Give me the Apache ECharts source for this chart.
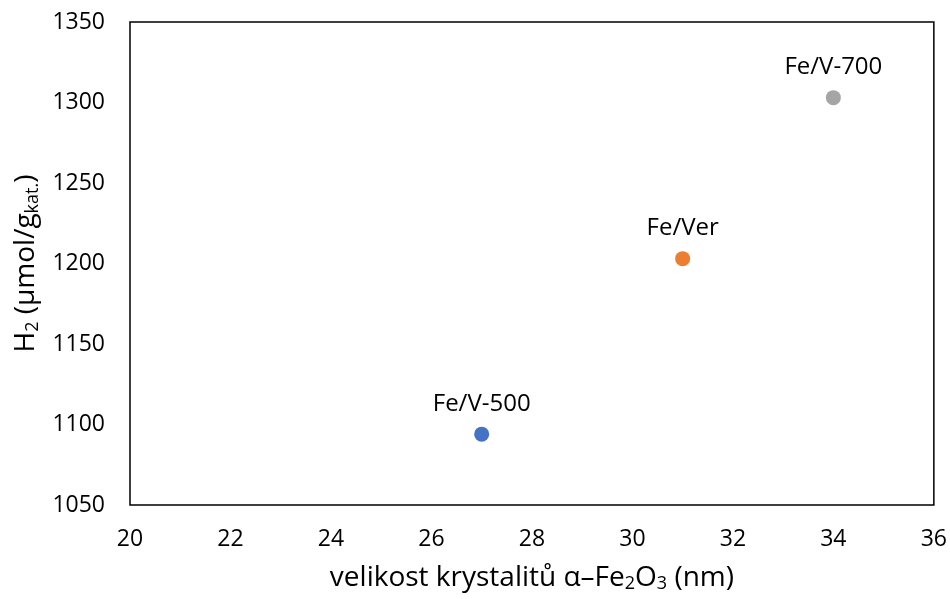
<!DOCTYPE html>
<html>
<head>
<meta charset="utf-8">
<script src="https://cdn.jsdelivr.net/npm/echarts@6/dist/echarts.min.js"></script>
<style>
  html, body { margin: 0; padding: 0; background: #fff; }
  #chart { width: 950px; height: 599px; }
</style>
</head>
<body>
<div id="chart"></div>
<script>
const names = ['Fe/V-500', 'Fe/Ver', 'Fe/V-700']
const crystalSize = [27, 31, 34]
const h2 = [1094, 1203, 1303]
const colors = ['#4472C4', '#ED7D31', '#A5A5A5']

const font = 'Open Sans'
const chart = echarts.init(document.getElementById('chart'))

const subStyle = { fontSize: 18, verticalAlign: 'bottom', padding: [12, 0, 0, 0], fontFamily: font, color: '#000' }

chart.setOption({
  animation: false,
  textStyle: { fontFamily: font },
  grid: {
    left: 130,
    right: 15,
    top: 22,
    bottom: 94,
    show: true,
    borderColor: '#000',
    borderWidth: 1.5
  },
  xAxis: {
    type: 'value',
    min: 20,
    max: 36,
    interval: 2,
    name: 'velikost krystalitů α–Fe{sub|2}O{sub|3} (nm)',
    nameLocation: 'middle',
    nameGap: 58,
    nameTextStyle: {
      color: '#000',
      fontSize: 28,
      fontFamily: font,
      rich: { sub: subStyle }
    },
    axisLine: { show: false },
    axisTick: { show: false },
    splitLine: { show: false },
    axisLabel: { color: '#000', fontSize: 23, margin: 23, fontFamily: font }
  },
  yAxis: {
    type: 'value',
    min: 1050,
    max: 1350,
    interval: 50,
    name: 'H{sub|2} (µmol/g{sub|kat.})',
    nameLocation: 'middle',
    nameGap: 87,
    nameRotate: 90,
    nameTextStyle: {
      color: '#000',
      fontSize: 28,
      fontFamily: font,
      rich: { sub: subStyle }
    },
    axisLine: { show: false },
    axisTick: { show: false },
    splitLine: { show: false },
    axisLabel: {
      color: '#000',
      fontSize: 23,
      margin: 25,
      fontFamily: font,
      formatter: v => String(v)
    }
  },
  series: [{
    type: 'scatter',
    symbol: 'circle',
    symbolSize: 15,
    itemStyle: { opacity: 1 },
    data: crystalSize.map((x, i) => ({
      value: [x, h2[i]],
      name: names[i],
      itemStyle: { color: colors[i], opacity: 1 }
    })),
    label: {
      show: true,
      position: 'top',
      distance: 11,
      formatter: p => p.name,
      color: '#000',
      opacity: 1,
      fontSize: 24,
      fontFamily: font
    }
  }]
})
</script>
</body>
</html>
